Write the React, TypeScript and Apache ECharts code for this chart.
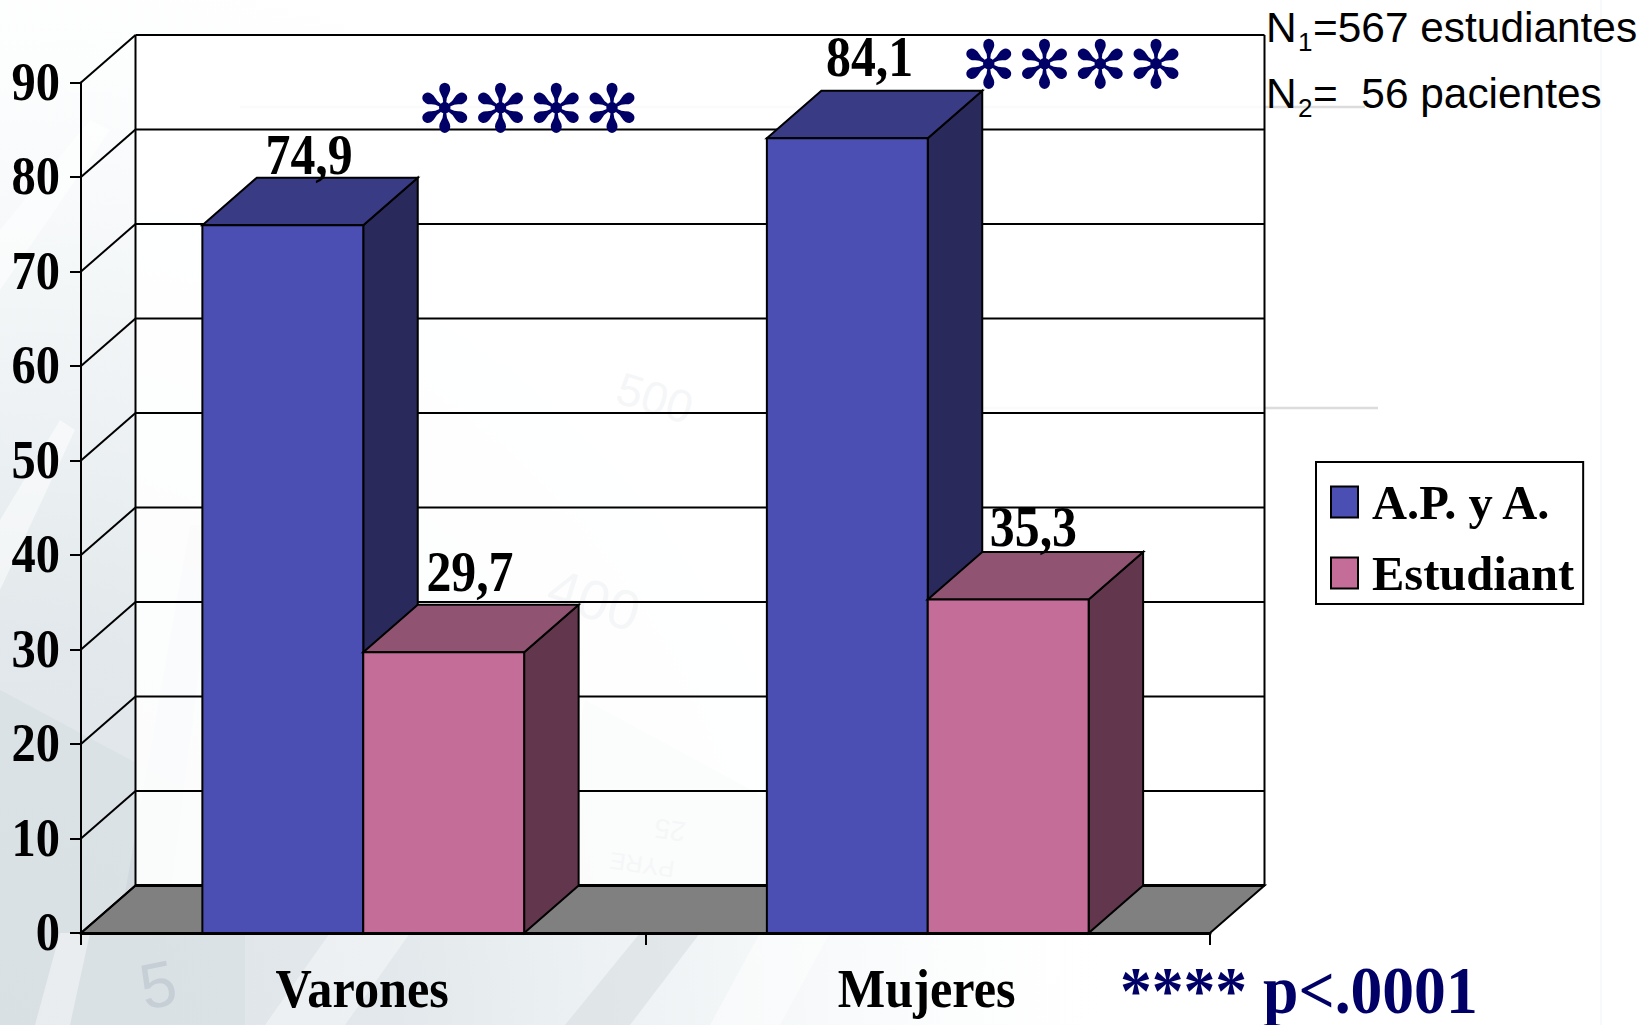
import React, { useEffect, useRef } from "react";
import * as echarts from "echarts";

// Percentages per group
const categories = ["Varones", "Mujeres"];
const seriesNames = ["A.P. y A.", "Estudiant"];
const apValues = [74.9, 84.1];
const estudiantValues = [29.7, 35.3];
const valueTicks = [0, 10, 20, 30, 40, 50, 60, 70, 80, 90];

// Distance of each value label above the rear top edge of its column, and its sideways nudge
const labelLift = [[2, 14], [13, 5]];
const labelNudge = [[0, -4], [0, -1]];

const SERIF = "'Liberation Serif', serif";
const SANS = "'Liberation Sans', sans-serif";
const NAVY = "#000066";
const DEPTH_X = 54.5;
const DEPTH_Y = -47.5;
const BAR_FRACTION = 0.285;
const STRETCH = 1.13;

const blueFaces = { front: "#4b4fb4", top: "#393b85", side: "#29295c" };
const pinkFaces = { front: "#c56d99", top: "#915372", side: "#62374d" };

function tallText(text: string, x: number, baseline: number, size: number, align: string, stretch = STRETCH, fill = "#000") {
  return {
    type: "text",
    x,
    y: baseline - size * 0.36 * stretch,
    scaleY: stretch,
    silent: true,
    style: { text, fill, textAlign: align, textVerticalAlign: "middle", font: `bold ${size}px ${SERIF}` },
  };
}

function columnRenderer(values: number[], faces: typeof blueFaces, side: number, seriesIndex: number) {
  return (params: any, api: any) => {
    const cat = api.value(0);
    const v = api.value(1);
    const [cx, yTop] = api.coord([cat, v]);
    const [, yBase] = api.coord([cat, 0]);
    const w = api.size([1, 0])[0] * BAR_FRACTION;
    const x0 = side < 0 ? cx - w : cx;
    const x1 = x0 + w;
    const edge = { stroke: "#000", lineWidth: 2, lineJoin: "miter" };
    const poly = (points: number[][], fill: string) => ({
      type: "polygon",
      shape: { points },
      style: { fill, ...edge },
    });
    return {
      type: "group",
      children: [
        poly([[x1, yTop], [x1 + DEPTH_X, yTop + DEPTH_Y], [x1 + DEPTH_X, yBase + DEPTH_Y], [x1, yBase]], faces.side),
        poly([[x0, yTop], [x0 + DEPTH_X, yTop + DEPTH_Y], [x1 + DEPTH_X, yTop + DEPTH_Y], [x1, yTop]], faces.top),
        poly([[x0, yTop], [x1, yTop], [x1, yBase], [x0, yBase]], faces.front),
        tallText(
          String(v).replace(".", ","),
          (x0 + x1) / 2 + DEPTH_X / 2 - 1 + labelNudge[seriesIndex][cat],
          yTop + DEPTH_Y - labelLift[seriesIndex][cat],
          49.8,
          "center"
        ),
      ],
    };
  };
}

function renderBackdrop(params: any, api: any) {
  const g = params.coordSys;
  const base = g.y + g.height;
  const right = g.x + g.width;
  return {
    type: "group",
    children: [
      {
        type: "rect",
        shape: { x: g.x + DEPTH_X, y: g.y + DEPTH_Y, width: g.width, height: g.height },
        style: { fill: "rgba(255,255,255,0.88)" },
      },
      {
        type: "polygon",
        shape: {
          points: [[g.x, base], [g.x + DEPTH_X, base + DEPTH_Y], [right + DEPTH_X, base + DEPTH_Y], [right, base]],
        },
        style: { fill: "#808080", stroke: "#000", lineWidth: 2 },
      },
      {
        type: "line",
        shape: { x1: g.x + DEPTH_X, y1: g.y + DEPTH_Y, x2: g.x + DEPTH_X, y2: base + DEPTH_Y },
        style: { stroke: "#000", lineWidth: 2 },
      },
      {
        type: "line",
        shape: { x1: right + DEPTH_X, y1: g.y + DEPTH_Y, x2: right + DEPTH_X, y2: base + DEPTH_Y },
        style: { stroke: "#000", lineWidth: 2 },
      },
    ],
  };
}

function renderWallLine(params: any, api: any) {
  const g = params.coordSys;
  const v = api.value(1);
  const [, y] = api.coord([0, v]);
  const backY = y + DEPTH_Y;
  return {
    type: "group",
    children: [
      {
        type: "line",
        shape: { x1: g.x, y1: y, x2: g.x + DEPTH_X, y2: backY },
        style: { stroke: "#000", lineWidth: 2 },
      },
      {
        type: "line",
        shape: { x1: g.x + DEPTH_X, y1: backY, x2: g.x + g.width + DEPTH_X, y2: backY },
        style: { stroke: "#000", lineWidth: v === 0 ? 3 : 2 },
      },
      tallText(String(v), g.x - 21, y + 18, 48.5, "right", 1.15),
    ],
  };
}

function renderCategoryLabel(params: any, api: any) {
  const i = api.value(0);
  const [cx] = api.coord([i, 0]);
  return tallText(categories[i], cx - 1, 1008, 50.3, "center", 1.11);
}

// Faint laboratory-glassware backdrop behind the plot
function backdropDecor() {
  const poly = (points: number[][], fill: string, opacity: number) => ({
    type: "polygon",
    silent: true,
    z: -5,
    shape: { points },
    style: { fill, opacity },
  });
  const faint = (text: string, x: number, y: number, size: number, rotation: number, fill = "#c6cfd5") => ({
    type: "text",
    silent: true,
    z: -4,
    x,
    y,
    rotation,
    style: { text, fill, font: `${size}px ${SANS}`, textAlign: "center", textVerticalAlign: "middle" },
  });
  const shade = {
    type: "radial",
    global: true,
    x: 0,
    y: 1025,
    r: 1120,
    colorStops: [
      { offset: 0, color: "rgba(221,227,231,1)" },
      { offset: 0.35, color: "rgba(226,232,235,1)" },
      { offset: 0.62, color: "rgba(236,241,243,0.75)" },
      { offset: 1, color: "rgba(250,252,253,0)" },
    ],
  };
  return [
    { type: "rect", silent: true, z: -6, shape: { x: 0, y: 0, width: 1601, height: 1025 }, style: { fill: shade } },
    poly([[0, 690], [205, 800], [245, 933], [245, 1025], [0, 1025]], "#d6dde1", 0.5),
    poly([[190, 525], [218, 525], [165, 933], [118, 933]], "#cbd4d9", 0.55),
    poly([[585, 700], [770, 800], [770, 933], [540, 933]], "#ccd4d9", 0.6),
    poly([[330, 933], [410, 933], [345, 1025], [265, 1025]], "#ffffff", 0.4),
    poly([[640, 933], [700, 933], [630, 1025], [565, 1025]], "#d3dade", 0.5),
    poly([[60, 933], [90, 933], [70, 1025], [35, 1025]], "#ffffff", 0.4),
    poly([[760, 933], [830, 933], [780, 1025], [710, 1025]], "#ffffff", 0.45),
    poly([[0, 230], [90, 120], [110, 130], [0, 290]], "#ffffff", 0.5),
    poly([[0, 520], [60, 420], [75, 430], [0, 590]], "#ffffff", 0.5),
    faint("5", 158, 985, 64, 0.2),
    faint("400", 594, 600, 56, -0.3, "#a9b4bb"),
    faint("500", 655, 398, 46, -0.3, "#a9b4bb"),
    faint("25", 670, 830, 28, 3.0, "#a9b4bb"),
    faint("PYRE", 642, 865, 24, 3.0, "#a9b4bb"),
  ];
}

function overlayText() {
  const sans = (text: string, x: number, baseline: number, size: number) => ({
    type: "text",
    silent: true,
    z: 20,
    x,
    y: baseline - size * 0.3,
    style: { text, fill: "#000", font: `${size}px ${SANS}`, textAlign: "left", textVerticalAlign: "middle" },
  });
  const stars = (x: number, y: number) => ({
    type: "text",
    silent: true,
    z: 20,
    x,
    y,
    style: { text: "✻✻✻✻", fill: NAVY, font: "66.5px 'DejaVu Sans'", textAlign: "left", textVerticalAlign: "middle" },
  });
  const haze = (x1: number, x2: number, y: number) => ({
    type: "line",
    silent: true,
    z: 1,
    shape: { x1, y1: y, x2, y2: y },
    style: { stroke: "#dcdcdc", lineWidth: 2.5 },
  });
  return [
    haze(240, 1365, 107),
    haze(982, 1378, 408),
    { type: "line", silent: true, z: -3, shape: { x1: 1601, y1: 0, x2: 1601, y2: 1025 }, style: { stroke: "#f4f7f9", lineWidth: 1.5 } },
    sans("N", 1266, 40, 42.4),
    sans("1", 1298, 50, 26),
    sans("=567 estudiantes", 1313, 40, 42.4),
    sans("N", 1266, 106, 42.4),
    sans("2", 1298, 116, 26),
    sans("=  56 pacientes", 1313, 106, 42.4),
    stars(417, 109),
    stars(961, 65),
    { ...tallText("**** p<.0001", 1120, 1015, 63.6, "left", 1.05, NAVY), z: 20 },
  ];
}

export default function App() {
  const ref = useRef<HTMLDivElement>(null);
  useEffect(() => {
    if (!ref.current) return;
    const chart = echarts.init(ref.current, undefined, { renderer: "svg" });
    const points = (vals: number[]) => vals.map((v, i) => [i, v]);
    chart.setOption({
      animation: false,
      backgroundColor: "#ffffff",
      grid: { left: 81, top: 82.5, width: 1129, height: 850.5 },
      xAxis: {
        type: "category",
        data: categories,
        z: 10,
        axisLine: { lineStyle: { color: "#000", width: 3 } },
        axisTick: { show: true, length: 12, lineStyle: { color: "#000", width: 2 } },
        axisLabel: { show: false },
        splitLine: { show: false },
      },
      yAxis: {
        type: "value",
        min: 0,
        max: 90,
        interval: 10,
        z: 10,
        axisLine: { show: true, lineStyle: { color: "#000", width: 2 } },
        axisTick: { show: true, length: 11, lineStyle: { color: "#000", width: 2 } },
        axisLabel: { show: false },
        splitLine: { show: false },
      },
      legend: {
        data: seriesNames,
        orient: "vertical",
        left: 1316,
        top: 462,
        icon: "rect",
        itemWidth: 27,
        itemHeight: 31,
        itemGap: 21,
        padding: [15, 9, 6, 14],
        backgroundColor: "#fff",
        borderColor: "#000",
        borderWidth: 2,
        borderRadius: 0,
        selectedMode: false,
        itemStyle: { borderColor: "#000", borderWidth: 2 },
        textStyle: { color: "#000", fontFamily: SERIF, fontWeight: "bold", fontSize: 48.5, lineHeight: 50, padding: [0, 0, 0, 9] },
      },
      graphic: { elements: [...backdropDecor(), ...overlayText()] },
      series: [
        { type: "custom", name: "backdrop", silent: true, data: [[0, 0]], renderItem: renderBackdrop },
        { type: "custom", name: "wall lines", silent: true, data: valueTicks.map((v) => [0, v]), renderItem: renderWallLine },
        { type: "custom", name: "category labels", silent: true, data: categories.map((_, i) => [i, 0]), renderItem: renderCategoryLabel },
        {
          type: "custom",
          name: seriesNames[0],
          silent: true,
          itemStyle: { color: blueFaces.front },
          data: points(apValues),
          renderItem: columnRenderer(apValues, blueFaces, -1, 0),
        },
        {
          type: "custom",
          name: seriesNames[1],
          silent: true,
          itemStyle: { color: pinkFaces.front },
          data: points(estudiantValues),
          renderItem: columnRenderer(estudiantValues, pinkFaces, 1, 1),
        },
      ],
    });
    return () => chart.dispose();
  }, []);
  return <div ref={ref} style={{ position: "absolute", left: 0, top: 0, width: 1641, height: 1025 }} />;
}
